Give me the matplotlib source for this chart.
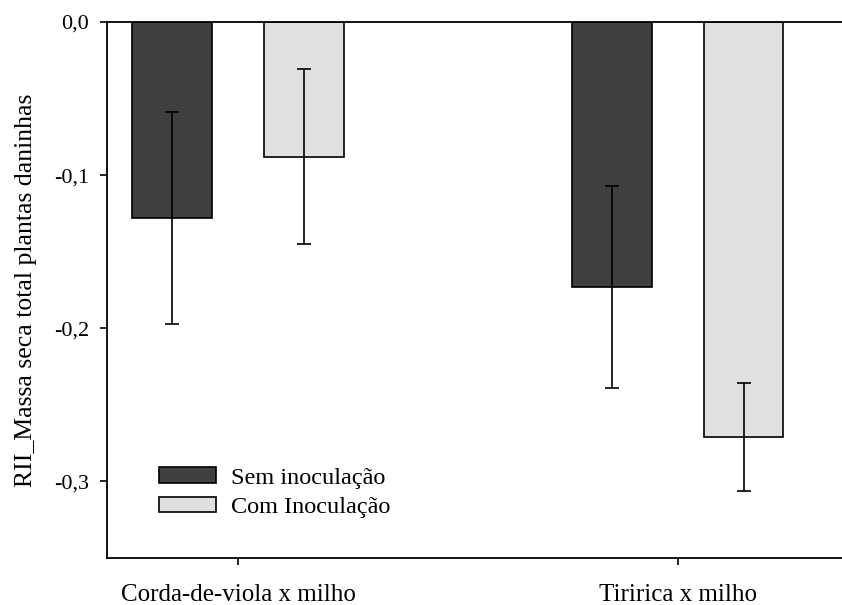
import numpy as np
import matplotlib
matplotlib.use('Agg')
import matplotlib.pyplot as plt
from matplotlib.ticker import FuncFormatter

plt.rcParams['font.family'] = ['Liberation Serif', 'DejaVu Serif']

categories = ['Corda-de-viola x milho', 'Tiririca x milho']
sem_inoc = [-0.128, -0.173]
sem_err = [0.069, 0.066]
com_inoc = [-0.088, -0.271]
com_err = [0.057, 0.035]
series_names = ['Sem inoculação', 'Com Inoculação']

x = np.arange(len(categories))
w = 0.18
off = 0.15

fig = plt.figure(figsize=(8.42, 6.05), dpi=100)
ax = fig.add_axes([0.127, 0.0777, 0.873, 0.886])

err_kw = dict(ecolor='black', elinewidth=1.2, capsize=5, capthick=1.2)
ax.bar(x - off, sem_inoc, w, yerr=sem_err, color='#404040', edgecolor='black',
       linewidth=1.2, label=series_names[0], error_kw=err_kw)
ax.bar(x + off, com_inoc, w, yerr=com_err, color='#e0e0e0', edgecolor='black',
       linewidth=1.2, label=series_names[1], error_kw=err_kw)

ax.set_xlim(-0.298, 1.373)
ax.set_ylim(-0.35, 0)
ax.set_yticks([0, -0.1, -0.2, -0.3])
ax.yaxis.set_major_formatter(FuncFormatter(lambda v, p: f'{v:.1f}'.replace('.', ',').replace('-0,0', '0,0')))
ax.set_xticks(x)
ax.set_xticklabels(categories)
ax.tick_params(axis='both', direction='out', length=5, width=1.2)
ax.tick_params(axis='y', labelsize=16, pad=8)
ax.tick_params(axis='x', labelsize=18, pad=14)
ax.spines['right'].set_visible(False)
for s in ['left', 'top', 'bottom']:
    ax.spines[s].set_linewidth(1.3)

ax.set_ylabel('RII_Massa seca total plantas daninhas', fontsize=18.5, labelpad=12)

ax.legend(loc='upper left', bbox_to_anchor=(0.058, 0.187), frameon=False, fontsize=17.5,
          handlelength=2.35, handleheight=0.62, handletextpad=0.6, labelspacing=0.32,
          borderaxespad=0.0)

plt.savefig('out.png', dpi=100)
